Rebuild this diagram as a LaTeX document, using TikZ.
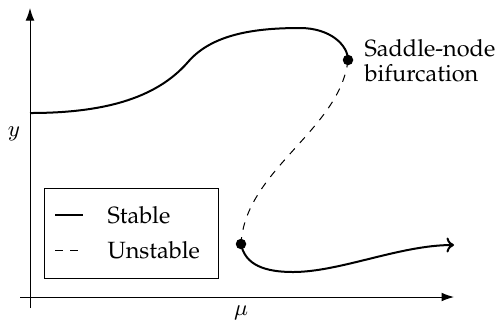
\documentclass[tikz,border=0pt]{standalone}
\usepackage[T1]{fontenc}
\renewcommand{\rmdefault}{ppl}
\usetikzlibrary{arrows.meta}
\begin{document}
\begin{tikzpicture}[x=0.4pt,y=-0.4pt,
  every node/.style={font=\fontsize{9.4}{11}\selectfont},
  axis/.style={line width=0.4pt,-{Latex[length=5pt,width=3.5pt]}},
  stab/.style={line width=0.8pt},
  unstab/.style={line width=0.4pt,dash pattern=on 3pt off 3pt},
  dot/.style={circle,fill=black,inner sep=0pt,minimum size=4.2pt},
  lbl/.style={inner sep=0pt,anchor=west,align=left}]
\useasboundingbox (0,0) rectangle (498,322);
% axes
\coordinate (yb) at (30,308);
\coordinate (yt) at (30,8);
\coordinate (xl) at (20,297);
\coordinate (xr) at (454,297);
\draw[axis] (yb) -- (yt);
\draw[axis] (xl) -- (xr);
\node (ylab) at (14,134) {$y$};
\node (mulab) at (241,313) {$\mu$};
% points
\coordinate (s0) at (30,113);
\coordinate (snp) at (348,60);
\coordinate (lpp) at (241,244);
\coordinate (end) at (454,245);
% upper stable branch
\draw[stab] (s0) .. controls (100,113) and (155,100) .. (188,62)
  .. controls (212,34) and (255,28) .. (300,28)
  .. controls (330,28) and (348,45) .. (snp);
% unstable branch
\draw[unstab] (snp) .. controls (340,130) and (245,170) .. (lpp);
% lower stable branch
\draw[stab,-{To[length=3pt,width=6pt]}] (lpp) .. controls (245,265) and (265,272) .. (293,272)
  .. controls (340,272) and (400,245) .. (end);
\node[dot] (sn) at (snp) {};
\node[dot] (lp) at (lpp) {};
% label
\node[lbl] (snlab) at (364,61) {Saddle-node\\[-1pt]bifurcation};
% legend
\node[draw,line width=0.4pt,minimum width=69.2pt,minimum height=36pt,inner sep=0pt] (leg) at (131.5,233) {};
\coordinate (l1a) at (55,215);
\coordinate (l1b) at (83,215);
\coordinate (l2a) at (55,250);
\coordinate (l2b) at (83,250);
\draw[stab] (l1a) -- (l1b);
\draw[unstab] (l2a) -- (l2b);
\node[lbl] (st) at (107,215) {Stable};
\node[lbl] (un) at (107,250) {Unstable};
\end{tikzpicture}
\end{document}
